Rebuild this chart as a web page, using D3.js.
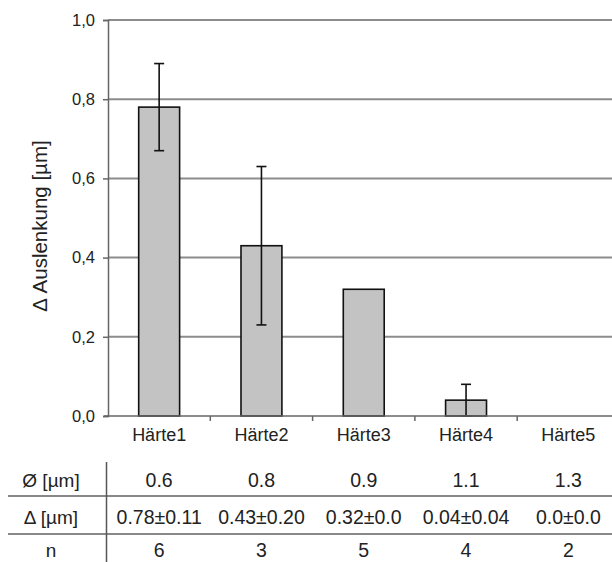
<!DOCTYPE html>
<html>
<head>
<meta charset="utf-8">
<script src="https://cdn.jsdelivr.net/npm/d3@7"></script>
<style>
  html, body { margin: 0; padding: 0; background: #fff; }
  svg { display: block; font-family: "Liberation Sans", Arial, sans-serif; }
</style>
</head>
<body>
<svg id="chart" width="612" height="562"></svg>
<script>
// Hardness groups and measured deflection difference
const categories = ["Härte1", "Härte2", "Härte3", "Härte4", "Härte5"];
const meanValues = [0.78, 0.43, 0.32, 0.04, 0.0];
const errorValues = [0.11, 0.20, 0.0, 0.04, 0.0];
const yTicks = [0, 0.2, 0.4, 0.6, 0.8, 1.0];

// Table below the chart
const diameterRow = ["0.6", "0.8", "0.9", "1.1", "1.3"];
const deltaRow = ["0.78±0.11", "0.43±0.20", "0.32±0.0", "0.04±0.04", "0.0±0.0"];
const countRow = ["6", "3", "5", "4", "2"];
const rowLabels = ["Ø [µm]", "Δ [µm]", "n"];

const svg = d3.select("#chart");
const textColor = "#222";

const plotLeft = 108, plotRight = 619.5, plotTop = 20, plotBottom = 416;

const x = d3.scaleBand().domain(categories).range([plotLeft, plotRight])
  .paddingInner(0.6).paddingOuter(0.3);
const y = d3.scaleLinear().domain([0, 1]).range([plotBottom, plotTop]);

// Horizontal gridlines
svg.append("g").selectAll("line")
  .data(yTicks.filter(d => d > 0))
  .join("line")
  .attr("x1", plotLeft).attr("x2", 612)
  .attr("y1", d => y(d)).attr("y2", d => y(d))
  .attr("stroke", "#8c8c8c").attr("stroke-width", 2);

// Y axis
const yAxis = svg.append("g")
  .attr("transform", `translate(${plotLeft},0)`)
  .call(d3.axisLeft(y).tickValues(yTicks).tickSize(5).tickPadding(8)
    .tickFormat(d => d3.format(".1f")(d).replace(".", ",")));
yAxis.select(".domain").attr("stroke", "#666").attr("stroke-width", 1.5);
yAxis.selectAll(".tick line").attr("stroke", "#666").attr("stroke-width", 1.5);
yAxis.selectAll(".tick text")
  .attr("font-size", 16.5).attr("fill", textColor)
  .attr("font-family", "Liberation Sans, Arial, sans-serif");

// Y axis title
svg.append("text")
  .attr("transform", "translate(47,226) rotate(-90)")
  .attr("text-anchor", "middle")
  .attr("font-size", 20.5).attr("fill", textColor)
  .text("Δ Auslenkung [µm]");

// Bars
svg.append("g").selectAll("rect")
  .data(categories.map((c, i) => ({ c, v: meanValues[i] })))
  .join("rect")
  .attr("x", d => x(d.c))
  .attr("y", d => y(d.v))
  .attr("width", x.bandwidth())
  .attr("height", d => y(0) - y(d.v))
  .attr("fill", "#c3c3c3")
  .attr("stroke", "#111")
  .attr("stroke-width", 1.6);

// Error bars
const err = svg.append("g").attr("stroke", "#111").attr("stroke-width", 1.6);
categories.forEach((c, i) => {
  const e = errorValues[i];
  if (e <= 0) return;
  const cx = x(c) + x.bandwidth() / 2;
  const hi = meanValues[i] + e, lo = meanValues[i] - e;
  err.append("line").attr("x1", cx).attr("x2", cx).attr("y1", y(hi)).attr("y2", y(lo));
  err.append("line").attr("x1", cx - 5).attr("x2", cx + 5).attr("y1", y(hi)).attr("y2", y(hi));
  err.append("line").attr("x1", cx - 5).attr("x2", cx + 5).attr("y1", y(lo)).attr("y2", y(lo));
});

// X axis line with boundary ticks
svg.append("line")
  .attr("x1", plotLeft - 4).attr("x2", 612)
  .attr("y1", plotBottom).attr("y2", plotBottom)
  .attr("stroke", "#666").attr("stroke-width", 1.5);
const step = x.step();
svg.append("g").selectAll("line")
  .data(d3.range(1, categories.length))
  .join("line")
  .attr("x1", d => plotLeft + d * step).attr("x2", d => plotLeft + d * step)
  .attr("y1", plotBottom).attr("y2", plotBottom + 5)
  .attr("stroke", "#666").attr("stroke-width", 1.5);

// Category labels
svg.append("g").selectAll("text")
  .data(categories)
  .join("text")
  .attr("x", d => x(d) + x.bandwidth() / 2)
  .attr("y", 441)
  .attr("text-anchor", "middle")
  .attr("font-size", 18).attr("fill", textColor)
  .text(d => d);

// Table
const rows = [diameterRow, deltaRow, countRow];
const rowY = [487, 524, 557];
const labelX = 51;
rows.forEach((row, r) => {
  svg.append("text")
    .attr("x", labelX).attr("y", rowY[r])
    .attr("text-anchor", "middle")
    .attr("font-size", 19).attr("fill", textColor)
    .text(rowLabels[r]);
  svg.append("g").selectAll("text")
    .data(row)
    .join("text")
    .attr("x", (d, i) => x(categories[i]) + x.bandwidth() / 2)
    .attr("y", rowY[r])
    .attr("text-anchor", "middle")
    .attr("font-size", 19.5).attr("fill", textColor)
    .text(d => d);
});
// Table rules
[496, 534].forEach(yy => {
  svg.append("line")
    .attr("x1", 8).attr("x2", 612)
    .attr("y1", yy).attr("y2", yy)
    .attr("stroke", "#888").attr("stroke-width", 2.2);
});
svg.append("line")
  .attr("x1", 106.5).attr("x2", 106.5)
  .attr("y1", 462).attr("y2", 562)
  .attr("stroke", "#555").attr("stroke-width", 1.5);
</script>
</body>
</html>
